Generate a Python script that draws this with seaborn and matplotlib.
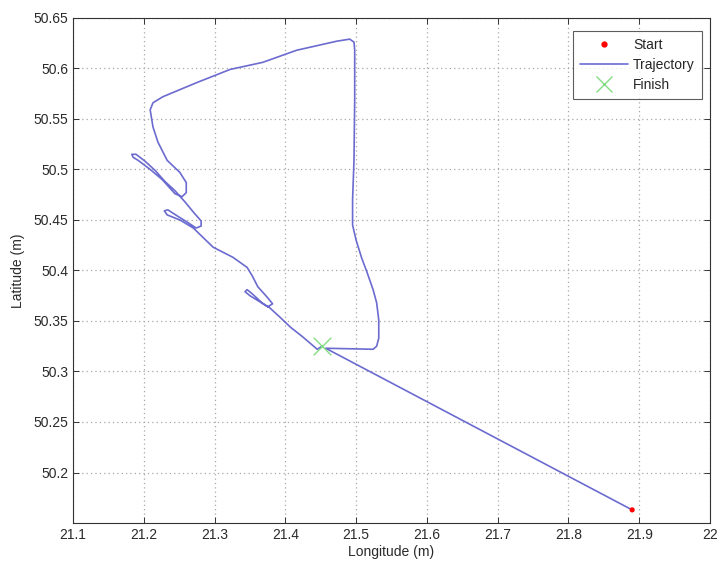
import matplotlib
matplotlib.use("Agg")
import matplotlib.pyplot as plt
import seaborn as sns
import pandas as pd
from matplotlib.lines import Line2D

# Recorded track: longitude / latitude samples in travel order
lon = [21.890, 21.457, 21.524, 21.529, 21.532, 21.532, 21.529, 21.524, 21.515, 21.508,
       21.500, 21.495, 21.495, 21.497, 21.498, 21.498, 21.497, 21.491, 21.473, 21.416,
       21.368, 21.322, 21.275, 21.227, 21.213, 21.209, 21.213, 21.220, 21.233, 21.251,
       21.260, 21.260, 21.254, 21.244, 21.226, 21.209, 21.192, 21.185, 21.183, 21.189,
       21.202, 21.216, 21.230, 21.244, 21.258, 21.271, 21.281, 21.281, 21.274, 21.261,
       21.245, 21.234, 21.229, 21.233, 21.251, 21.270, 21.298, 21.326, 21.346, 21.353,
       21.361, 21.375, 21.382, 21.375, 21.364, 21.350, 21.343, 21.346, 21.353, 21.367,
       21.378, 21.392, 21.407, 21.425, 21.445, 21.452]
lat = [50.163, 50.323, 50.322, 50.325, 50.333, 50.351, 50.368, 50.381, 50.399, 50.412,
       50.430, 50.445, 50.470, 50.509, 50.569, 50.618, 50.626, 50.629, 50.627, 50.618,
       50.606, 50.599, 50.586, 50.572, 50.566, 50.559, 50.542, 50.527, 50.509, 50.497,
       50.487, 50.477, 50.473, 50.476, 50.490, 50.500, 50.509, 50.512, 50.515, 50.515,
       50.508, 50.499, 50.488, 50.479, 50.468, 50.457, 50.449, 50.444, 50.442, 50.448,
       50.455, 50.460, 50.459, 50.455, 50.450, 50.442, 50.423, 50.413, 50.403, 50.395,
       50.384, 50.373, 50.367, 50.364, 50.369, 50.375, 50.379, 50.381, 50.377, 50.368,
       50.363, 50.354, 50.344, 50.334, 50.322, 50.325]

start_lon, start_lat = [21.890], [50.163]
finish_lon, finish_lat = [21.452], [50.325]

x_ticks = [21.1, 21.2, 21.3, 21.4, 21.5, 21.6, 21.7, 21.8, 21.9, 22.0]
x_tick_labels = ["21.1", "21.2", "21.3", "21.4", "21.5", "21.6", "21.7", "21.8", "21.9", "22"]
y_ticks = [50.2, 50.25, 50.3, 50.35, 50.4, 50.45, 50.5, 50.55, 50.6, 50.65]
y_tick_labels = ["50.2", "50.25", "50.3", "50.35", "50.4", "50.45", "50.5", "50.55", "50.6", "50.65"]

sns.set_theme(style="white")
plt.rcParams["font.family"] = ["Liberation Sans", "DejaVu Sans"]

traj_color = "#6b6bd0"
fin_color = "#82dc82"
text_color = "#2a2a2a"

fig = plt.figure(figsize=(7.23, 5.65), dpi=100)
ax = fig.add_axes([0.101, 0.0743, 0.881, 0.894])

track = pd.DataFrame({"lon": lon, "lat": lat})
sns.lineplot(data=track, x="lon", y="lat", sort=False, estimator=None,
             color=traj_color, linewidth=1.2, ax=ax)
sns.scatterplot(x=start_lon, y=start_lat, color="red", s=14, edgecolor="none",
                ax=ax, zorder=4)
sns.scatterplot(x=finish_lon, y=finish_lat, color=fin_color, marker="x", s=160,
                linewidth=1.0, ax=ax, zorder=4)

ax.set_xlim(21.1, 22.0)
ax.set_ylim(50.15, 50.65)
ax.set_xticks(x_ticks)
ax.set_xticklabels(x_tick_labels)
ax.set_yticks(y_ticks)
ax.set_yticklabels(y_tick_labels)

ax.grid(True, linestyle=(0, (1, 2.5)), color="#a8a8a8", linewidth=0.9)
ax.tick_params(direction="in", length=4, width=0.7, colors="#333333",
               labelsize=10, top=True, right=True, bottom=True, left=True,
               labelcolor=text_color)
for s in ax.spines.values():
    s.set_color("#333333")
    s.set_linewidth(0.8)

ax.set_xlabel("Longitude (m)", fontsize=10, color=text_color, labelpad=2)
ax.set_ylabel("Latitude (m)", fontsize=10, color=text_color, labelpad=6)

handles = [
    Line2D([], [], color="red", marker="o", markersize=3.5, linestyle="none"),
    Line2D([], [], color=traj_color, linewidth=1.2),
    Line2D([], [], color=fin_color, marker="x", markersize=12, linestyle="none",
           markeredgewidth=1.0),
]
leg = ax.legend(handles, ["Start", "Trajectory", "Finish"], loc="upper right",
                fontsize=10, frameon=True, fancybox=False, borderpad=0.5,
                handlelength=3.4, labelspacing=0.45, handletextpad=0.4,
                bbox_to_anchor=(0.998, 0.988))
leg.get_frame().set_edgecolor("#333333")
leg.get_frame().set_linewidth(0.8)

fig.savefig("out.png", dpi=100, facecolor="white")
